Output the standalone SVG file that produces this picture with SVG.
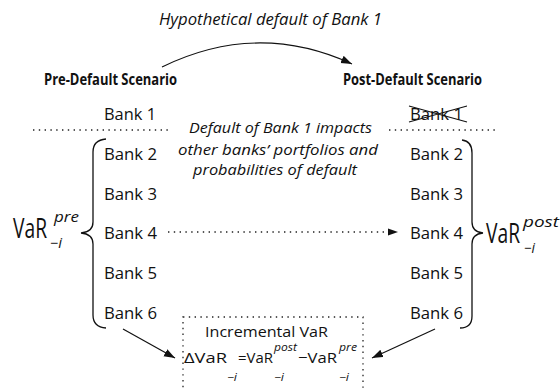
<svg xmlns="http://www.w3.org/2000/svg" width="560" height="391" viewBox="0 0 560 391">
<style>
text{font-family:"Open Sans","Noto Sans","Liberation Sans",sans-serif;fill:#111}
.it{font-style:italic}
.bank{font-size:17px}
.ttl{font-size:16px;font-weight:bold}
.par{font-size:15px;font-style:italic}
.var{font-size:28px}
.sup{font-size:14px;font-style:italic}
.f{font-size:15px}
.fs{font-size:11px;font-style:italic}
.line{fill:none;stroke:#111;stroke-width:1.2}
.dot{fill:none;stroke:#222;stroke-width:1.3;stroke-dasharray:1.4 4.4}
.brace{fill:none;stroke:#111;stroke-width:1.3}
</style>
<defs>
<marker id="ah" markerUnits="userSpaceOnUse" markerWidth="12" markerHeight="10" refX="11" refY="4" orient="auto">
<path d="M0,0 L11,4 L0,8 Z" fill="#111"/>
</marker>
</defs>

<g id="caption">
<text class="it" x="159" y="25" font-size="16" textLength="223" lengthAdjust="spacingAndGlyphs">Hypothetical default of Bank 1</text>
</g>

<g id="pre-scenario">
<text class="ttl" x="44" y="85" textLength="133" lengthAdjust="spacingAndGlyphs">Pre-Default Scenario</text>
<text class="bank" x="104" y="120" textLength="52" lengthAdjust="spacingAndGlyphs">Bank 1</text>
<line class="dot" x1="33" y1="130" x2="168" y2="130"/>
</g>

<g id="post-scenario">
<text class="ttl" x="343" y="85" textLength="139" lengthAdjust="spacingAndGlyphs">Post-Default Scenario</text>
<text class="bank" x="410" y="120" textLength="53" lengthAdjust="spacingAndGlyphs">Bank 1</text>
<path class="line" d="M409,106 L467,122 M409,122 L467,106" stroke-width="1.3"/>
<line class="dot" x1="389" y1="130" x2="499" y2="130"/>
</g>

<g id="impact-note">
<text class="par" x="189" y="133" textLength="183" lengthAdjust="spacingAndGlyphs">Default of Bank 1 impacts</text>
<text class="par" x="178" y="155" textLength="200" lengthAdjust="spacingAndGlyphs">other banks’ portfolios and</text>
<text class="par" x="193" y="175" textLength="164" lengthAdjust="spacingAndGlyphs">probabilities of default</text>
</g>

<g id="pre-banks">
<text class="bank" x="104" y="160" textLength="53" lengthAdjust="spacingAndGlyphs">Bank 2</text>
<text class="bank" x="104" y="200" textLength="53" lengthAdjust="spacingAndGlyphs">Bank 3</text>
<text class="bank" x="104" y="239" textLength="53" lengthAdjust="spacingAndGlyphs">Bank 4</text>
<text class="bank" x="104" y="279" textLength="53" lengthAdjust="spacingAndGlyphs">Bank 5</text>
<text class="bank" x="104" y="319" textLength="53" lengthAdjust="spacingAndGlyphs">Bank 6</text>
<path class="brace" d="M106,139 Q93,140 93,152 L93,222 Q93,232 81,233 Q93,234 93,244 L93,315 Q93,327 106,328"/>
</g>

<g id="post-banks">
<text class="bank" x="410" y="160" textLength="53" lengthAdjust="spacingAndGlyphs">Bank 2</text>
<text class="bank" x="410" y="200" textLength="53" lengthAdjust="spacingAndGlyphs">Bank 3</text>
<text class="bank" x="410" y="239" textLength="53" lengthAdjust="spacingAndGlyphs">Bank 4</text>
<text class="bank" x="410" y="279" textLength="53" lengthAdjust="spacingAndGlyphs">Bank 5</text>
<text class="bank" x="410" y="319" textLength="53" lengthAdjust="spacingAndGlyphs">Bank 6</text>
<path class="brace" d="M462,140 Q472,141 472,153 L472,222 Q472,232 483,233 Q472,234 472,244 L472,316 Q472,328 460,328"/>
</g>

<g id="var-pre">
<text class="var" x="13" y="238" textLength="34" lengthAdjust="spacingAndGlyphs">VaR</text>
<text class="sup" x="54" y="222" textLength="25" lengthAdjust="spacingAndGlyphs">pre</text>
<text class="sup" x="50" y="248" textLength="12" lengthAdjust="spacingAndGlyphs">−i</text>
</g>

<g id="var-post">
<text class="var" x="486" y="243" textLength="34" lengthAdjust="spacingAndGlyphs">VaR</text>
<text class="sup" x="523" y="227" textLength="36" lengthAdjust="spacingAndGlyphs">post</text>
<text class="sup" x="524" y="253" textLength="11" lengthAdjust="spacingAndGlyphs">−i</text>
</g>

<g id="incremental-var">
<rect class="dot" x="183" y="317" width="180" height="90"/>
<text class="f" x="205" y="337" font-size="16" textLength="123" lengthAdjust="spacingAndGlyphs">Incremental VaR</text>
<text class="f" x="184" y="363" textLength="43" lengthAdjust="spacingAndGlyphs">ΔVaR</text>
<text class="fs" x="227" y="381" textLength="10" lengthAdjust="spacingAndGlyphs">−i</text>
<text class="f" x="238" y="363" textLength="35" lengthAdjust="spacingAndGlyphs">=VaR</text>
<text class="fs" x="274" y="351" textLength="23" lengthAdjust="spacingAndGlyphs">post</text>
<text class="fs" x="274" y="381" textLength="10" lengthAdjust="spacingAndGlyphs">−i</text>
<text class="f" x="298" y="363" textLength="39" lengthAdjust="spacingAndGlyphs">−VaR</text>
<text class="fs" x="339" y="351" textLength="18" lengthAdjust="spacingAndGlyphs">pre</text>
<text class="fs" x="339" y="381" textLength="10" lengthAdjust="spacingAndGlyphs">−i</text>
</g>

<g id="connectors">
<path class="line" d="M162,67 Q257,20.5 352,64" marker-end="url(#ah)"/>
<line class="dot" x1="168" y1="232" x2="388" y2="232"/>
<path d="M388,228.5 L398,232 L388,235.5 Z" fill="#111"/>
<line class="line" x1="123" y1="329" x2="175" y2="358" marker-end="url(#ah)"/>
<line class="line" x1="435" y1="329" x2="372" y2="358" marker-end="url(#ah)"/>
</g>
</svg>
